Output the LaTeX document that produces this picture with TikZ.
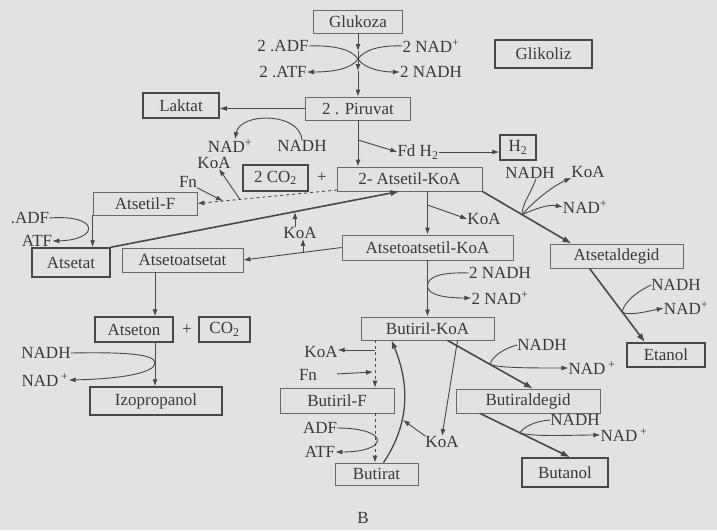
\documentclass[tikz,border=0pt]{standalone}
\usepackage{fontspec}
\setmainfont{Liberation Serif}
\usetikzlibrary{arrows.meta}
\definecolor{paper}{RGB}{226,226,226}
\definecolor{tc}{RGB}{56,56,56}
\definecolor{lc}{RGB}{72,72,72}
\definecolor{bc}{RGB}{105,105,105}
\newcommand\pathfont{\fontsize{17pt}{19pt}\selectfont}
\tikzset{
  ink/.style={draw=lc, line width=0.9pt},
  arr/.style={ink, -{Latex[length=7pt,width=5pt]}},
  tarr/.style={draw=lc, line width=1.6pt, -{Latex[length=9pt,width=6.5pt]}},
  marr/.style={draw=lc, line width=1.3pt, -{Latex[length=8pt,width=6pt]}},
  lbl/.style={text=tc, font=\pathfont, inner sep=0pt},
  ibox/.style={draw=bc, line width=0.8pt, text=tc, font=\pathfont, inner sep=0pt},
  pbox/.style={draw=lc, line width=1.5pt, text=tc, font=\pathfont, inner sep=0pt},
}
\begin{document}
\begin{tikzpicture}[x=1pt,y=-1pt]
\fill[paper] (0,0) rectangle (717,530);
\useasboundingbox (0,0) rectangle (717,530);

% ---- boxes: intermediates (light frame) ----
\node[ibox, minimum width=89pt,  minimum height=23pt] (glu)    at (358,21.5)  {Glukoza};
\node[ibox, minimum width=105pt, minimum height=23pt] (pir)    at (358,108.5) {2 . Piruvat};
\node[ibox, minimum width=145pt, minimum height=24pt] (akoa)   at (409.5,179) {2- Atsetil-KoA};
\node[ibox, minimum width=104pt, minimum height=23pt] (af)     at (145,203.5) {Atsetil-F};
\node[ibox, minimum width=171pt, minimum height=25pt] (aakoa)  at (427.5,247.5) {Atsetoatsetil-KoA};
\node[ibox, minimum width=121pt, minimum height=24pt] (aat)    at (182.5,260) {Atsetoatsetat};
\node[ibox, minimum width=133pt, minimum height=24pt] (aald)   at (616.5,256) {Atsetaldegid};
\node[ibox, minimum width=133pt, minimum height=23pt] (bkoa)   at (427.5,328.5) {Butiril-KoA};
\node[ibox, minimum width=114pt, minimum height=25pt] (bf)     at (337,400.5) {Butiril-F};
\node[ibox, minimum width=144pt, minimum height=24pt] (bald)   at (528,401) {Butiraldegid};
\node[ibox, minimum width=83pt,  minimum height=22pt] (butirat) at (376.5,474) {Butirat};

% ---- boxes: products (heavy frame) ----
\node[pbox, minimum width=97pt, minimum height=28pt] (gli)     at (543.5,54)  {Glikoliz};
\node[pbox, minimum width=76pt, minimum height=25pt] (lak)     at (181,105.5) {Laktat};
\node[pbox, minimum width=36pt, minimum height=25pt] (h2)      at (518,147.5) {H\textsubscript{2}};
\node[pbox, minimum width=65pt, minimum height=26pt] (co2a)    at (275.5,178) {2 CO\textsubscript{2}};
\node[pbox, minimum width=78pt, minimum height=29pt] (atsetat) at (71,262.5)  {Atsetat};
\node[pbox, minimum width=78pt, minimum height=25pt] (atseton) at (134,329.5) {Atseton};
\node[pbox, minimum width=51pt, minimum height=25pt] (co2b)    at (224.5,329.5) {CO\textsubscript{2}};
\node[pbox, minimum width=78pt, minimum height=24pt] (etanol)  at (666,355)   {Etanol};
\node[pbox, minimum width=132pt, minimum height=28pt] (izo)    at (156,401)   {Izopropanol};
\node[pbox, minimum width=86pt, minimum height=29pt] (butanol) at (565,472.5) {Butanol};

% ---- cofactor labels ----
\node[lbl] (adf1)  at (283,46)  {2 .ADF};
\node[lbl] (atf1)  at (283,72)  {2 .ATF};
\node[lbl] (nadp1) at (431,46)  {2 NAD\textsuperscript{+}};
\node[lbl] (nadh1) at (431,72)  {2 NADH};
\node[lbl] (nadp2) at (230,146) {NAD\textsuperscript{+}};
\node[lbl] (nadh2) at (302,146) {NADH};
\node[lbl] (koa1)  at (214,163) {KoA};
\node[lbl] (fn1)   at (188,182) {Fn};
\node[lbl] (fd)    at (418,152) {Fd H\textsubscript{2}};
\node[lbl] (plus1) at (322,178) {+};
\node[lbl] (nadh4) at (530,173) {NADH};
\node[lbl] (koa4)  at (588,172) {KoA};
\node[lbl] (nadp4) at (585,207) {NAD\textsuperscript{+}};
\node[lbl] (koa3)  at (484,219) {KoA};
\node[lbl] (adf2)  at (30,218)  {.ADF};
\node[lbl] (atf2)  at (37,241)  {ATF};
\node[lbl] (koa2)  at (300,233) {KoA};
\node[lbl] (nadh3) at (500,273) {2 NADH};
\node[lbl] (nadp3) at (500,298) {2 NAD\textsuperscript{+}};
\node[lbl] (nadh5) at (676,285) {NADH};
\node[lbl] (nadp5) at (686,308) {NAD\textsuperscript{+}};
\node[lbl] (plus2) at (187,330) {+};
\node[lbl] (nadh6) at (46,353)  {NADH};
\node[lbl] (nadp6) at (45,380)  {NAD\,\textsuperscript{+}};
\node[lbl] (nadh7) at (542,345) {NADH};
\node[lbl] (nadp7) at (592,368) {NAD\,\textsuperscript{+}};
\node[lbl] (koa5)  at (321,352) {KoA};
\node[lbl] (fn5)   at (308,375) {Fn};
\node[lbl] (nadh8) at (575,420) {NADH};
\node[lbl] (nadp8) at (624,435) {NAD\,\textsuperscript{+}};
\node[lbl] (adf5)  at (320,428) {ADF};
\node[lbl] (atf5)  at (320,452) {ATF};
\node[lbl] (koa6)  at (442,442) {KoA};
\node[lbl] (bl)    at (363,518) {B};

% ---- glycolysis ----
\coordinate (ga) at (358,51);
\coordinate (gx) at (358,59);
\coordinate (gb) at (358,71);
\draw[arr] (glu.south) -- (ga);
\draw[arr] (ga) -- (gb);
\draw[arr] (gb) -- (pir.north);
\draw[ink] (adf1.east) .. controls (336,45) and (352,50) .. (gx);
\draw[arr] (gx) .. controls (352,68) and (336,72) .. (atf1.east);
\draw[ink] (nadp1.west) .. controls (380,45) and (364,50) .. (gx);
\draw[arr] (gx) .. controls (364,68) and (380,72) .. (nadh1.west);

% ---- pyruvate branches ----
\draw[arr] (pir.west) -- (pir.west -| lak.east);
\draw[arr] (nadh2.north) .. controls (300,112) and (240,112) .. ([xshift=5pt]nadp2.north);
\coordinate (pb) at (358,140);
\draw[arr] (pir.south) -- (pir.south |- akoa.north);
\draw[arr] (pb) -- (fd.west);
\draw[arr] (fd.east) -- (fd.east -| h2.west);

% ---- acetyl-CoA to acetyl phosphate ----
\coordinate (ds)  at (337,190);
\coordinate (dk)  at (240,199.5);
\coordinate (dfn) at (223,201);
\draw[arr, dashed] (ds) -- (af.east);
\draw[arr] (dk) -- ([xshift=5pt]koa1.south);
\draw[arr] (fn1.south east) -- (dfn);
\draw[arr] (af.south west) -- (af.south west |- atsetat.north);
\draw[arr] (adf2.east) .. controls (100,214) and (100,240) .. (atf2.east);

% ---- acetate back to acetyl-CoA ----
\coordinate (lk) at (295,212);
\draw[tarr] (atsetat.north east) -- ([xshift=-10pt]akoa.south);
\draw[arr] ([xshift=-5pt]koa2.north) -- (lk);

% ---- acetoacetyl-CoA ----
\coordinate (kb) at (427.5,205);
\draw[arr] (akoa.south -| aakoa.north) -- (aakoa.north);
\draw[arr] (kb) -- (koa3.west);
\coordinate (lk2) at (303,252.4);
\draw[arr] (aakoa.west) -- (aat.east);
\draw[arr] (lk2) -- ([xshift=3pt]koa2.south);

% ---- acetone / isopropanol ----
\coordinate (ta) at (155,272);
\coordinate (tb) at (155,342);
\coordinate (jz) at (155,363);
\draw[arr] (ta) -- (ta |- atseton.north);
\draw[arr] (tb) -- (tb |- izo.north);
\draw[ink] (nadh6.east) .. controls (125,352) and (155,354) .. (jz);
\draw[arr] (jz) .. controls (155,373) and (120,379) .. (nadp6.east);

% ---- butyryl-CoA ----
\coordinate (jc) at (427.5,286);
\draw[arr] (aakoa.south) -- (bkoa.north);
\draw[ink] (nadh3.west) .. controls (440,272) and (427.5,277) .. (jc);
\draw[arr] (jc) .. controls (427.5,295) and (445,298) .. (nadp3.west);

% ---- ethanol branch ----
\coordinate (ja) at (522,214.7);
\draw[tarr] (akoa.south east) -- ([xshift=-45pt]aald.north);
\draw[ink] ([xshift=6pt]nadh4.south) .. controls (530,195) and (522,204) .. (ja);
\draw[arr] (ja) .. controls (535,200) and (553,186) .. (koa4.south west);
\draw[arr] (ja) .. controls (535,209) and (548,204) .. (nadp4.west);
\coordinate (je) at (622,312);
\draw[tarr] ([xshift=-27pt]aald.south) -- ([xshift=-21pt]etanol.north);
\draw[ink] (nadh5.west) .. controls (640,290) and (625,300) .. (je);
\draw[arr] (je) .. controls (628,316) and (645,312) .. (nadp5.west);

% ---- butanol branch ----
\coordinate (jb) at (490,364.5);
\draw[tarr] ([xshift=20pt]bkoa.south) -- ([xshift=5pt]bald.north);
\draw[ink] (nadh7.west) .. controls (505,348) and (492,356) .. (jb);
\draw[arr] (jb) .. controls (500,368) and (530,368) .. (nadp7.west);
\coordinate (jd) at (520,433);
\draw[tarr] ([xshift=-48pt]bald.south) -- ([xshift=5pt]butanol.north);
\draw[ink] (nadh8.west) .. controls (535,421) and (523,427) .. (jd);
\draw[arr] (jd) .. controls (535,437) and (570,435) .. (nadp8.west);

% ---- butyrate ----
\coordinate (bd1) at (375,340);
\coordinate (bd2) at (375,413);
\coordinate (bk)  at (375,350);
\coordinate (bfn) at (373,372);
\draw[arr, dashed] (bd1) -- (bd1 |- bf.north);
\draw[arr, dashed] (bd2) -- (bd2 |- butirat.north);
\draw[arr] (bk) -- (bk -| koa5.east);
\draw[arr, shorten <=20pt] (fn5.east) -- (bfn);
\draw[arr] (adf5.east) .. controls (390,428) and (390,452) .. (atf5.east);
\coordinate (bc) at (403,420);
\draw[marr] ([xshift=7pt]butirat.north) .. controls (412,420) and (408,380) .. ([xshift=-36pt]bkoa.south);
\draw[arr] (koa6.north west) -- (bc);
\draw[arr] ([xshift=30pt]bkoa.south) -- (koa6.north);
\end{tikzpicture}
\end{document}
